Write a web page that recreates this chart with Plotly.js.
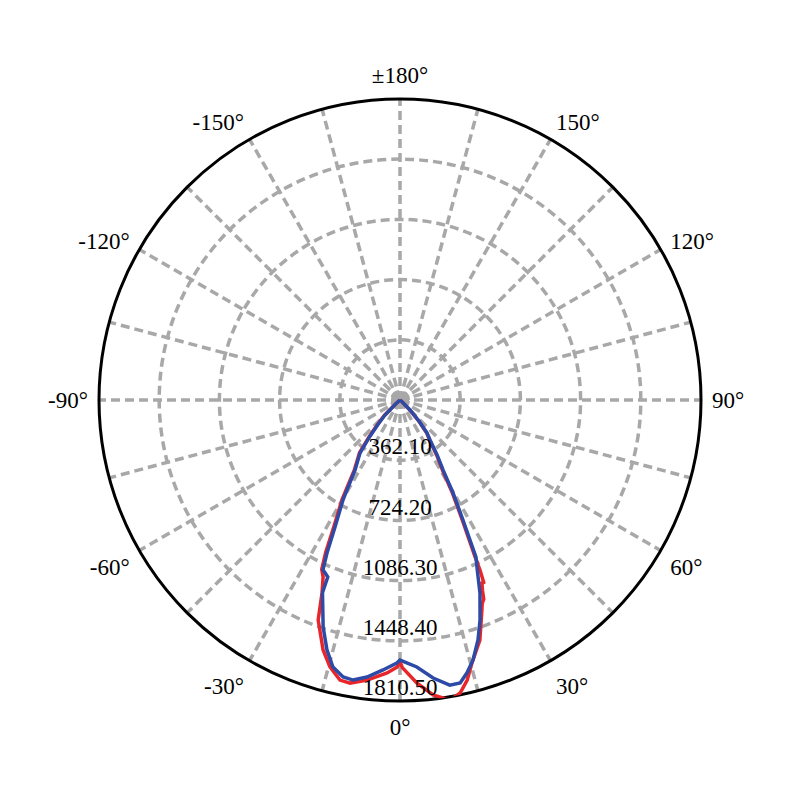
<!DOCTYPE html>
<html>
<head>
<meta charset="utf-8">
<script src="https://cdn.plot.ly/plotly-3.0.1.min.js"></script>
<style>html,body{margin:0;padding:0;background:#fff;}#chart{width:800px;height:800px;}</style>
</head>
<body>
<div id="chart"></div>
<script>
// Angular ticks (degrees, 0 at bottom)
const angleTicks = [0,15,30,45,60,75,90,105,120,135,150,165,180,195,210,225,240,255,270,285,300,315,330,345];
const angleLabels = ['0°','','30°','','60°','','90°','','120°','','150°','','±180°','','-150°','','-120°','','-90°','','-60°','','-30°',''];

// Radial grid values and labels
const radialGrid = [50, 362.10, 724.20, 1086.30, 1448.40, 1810.50];
const radialLabelValues = [362.10, 724.20, 1086.30, 1448.40, 1810.50];
const radialLabels = ['362.10','724.20','1086.30','1448.40','1810.50'];

// Blue series
const blueTheta = [-90,-50,-47,-45,-42,-39.5,-37,-32.7,-29.7,-27.1,-25.5,-24.4,-23.3,-22.2,-21.9,-18.7,-16.3,-14.1,-11.6,-9.5,-6.8,-3.6,-0.7,0,3.6,6.8,9.9,12,13.8,15.7,18,20,22.5,24.5,25.8,27.7,29.7,31.6,34,36.9,39.3,42,45,48,50,90];
const blueR     = [0,0,40,130,200,290,400,500,692,858,1020,1122,1135,1150,1250,1442,1566,1656,1701,1708,1678,1627,1582,1564,1609,1684,1741,1740,1690,1624,1518,1408,1257,1120,1050,815,644,494,400,301,256,170,85,20,0,0];

// Red series
const redTheta = [-90,-50,-47.5,-45.5,-42.5,-40,-37.5,-33.2,-30.2,-27.6,-26,-24.8,-23.5,-22,-20.4,-17.1,-14.7,-12.1,-10,-6.7,-2.7,-0.6,0,0.5,3.4,6.4,9.5,11.6,13.5,15.3,18.4,21.3,22.0,22.8,23.4,24.2,24.6,25.2,25.6,27.4,29.4,31.2,33.6,36.5,39,41.7,44.7,47.7,49.7,90];
const redR     = [0,0,40,130,200,290,400,500,692,858,1020,1122,1160,1252,1412,1573,1660,1723,1729,1696,1644,1606,1575,1610,1705,1785,1830,1799,1732,1640,1522,1356,1320,1300,1250,1200,1215,1130,1040,815,644,494,400,301,256,170,85,20,0,0];

const gridColor = '#a8a8a8';
const gridDash = '9px,5px';
const serif = 'Liberation Serif';

const traces = [
  {type:'scatterpolar', mode:'lines', theta: redTheta, r: redR,
   line:{color:'#e8262a', width:3.5}, hoverinfo:'skip', cliponaxis:false},
  {type:'scatterpolar', mode:'lines', theta: blueTheta, r: blueR,
   line:{color:'#2c4aa6', width:3.5}, hoverinfo:'skip', cliponaxis:false},
  {type:'scatterpolar', mode:'text', theta: radialLabelValues.map(()=>0), r: radialLabelValues,
   text: radialLabels, textposition:'top center', cliponaxis:false, hoverinfo:'skip',
   textfont:{family:serif, size:23, color:'#000'}}
];

const layout = {
  width:800, height:800,
  margin:{l:99, r:99, t:99, b:99},
  paper_bgcolor:'#fff',
  showlegend:false,
  font:{family:serif, color:'#000'},
  polar:{
    domain:{x:[0,1], y:[0,1]},
    bgcolor:'#fff',
    radialaxis:{
      range:[0,1810.5], tickmode:'array', tickvals: radialGrid,
      showticklabels:false, ticks:'', showline:false,
      gridcolor:gridColor, gridwidth:3.5, griddash:gridDash,
      angle:-90, layer:'below traces'
    },
    angularaxis:{
      rotation:-90, direction:'counterclockwise',
      tickmode:'array', tickvals: angleTicks, ticktext: angleLabels,
      showgrid:true, gridcolor:gridColor, gridwidth:3.5, griddash:gridDash,
      showline:true, linecolor:'#000', linewidth:3,
      ticks:'outside', ticklen:5, tickcolor:'rgba(0,0,0,0)',
      tickfont:{family:serif, size:23, color:'#000'},
      layer:'below traces'
    }
  }
};

Plotly.newPlot('chart', traces, layout, {displayModeBar:false, staticPlot:true});
</script>
</body>
</html>
